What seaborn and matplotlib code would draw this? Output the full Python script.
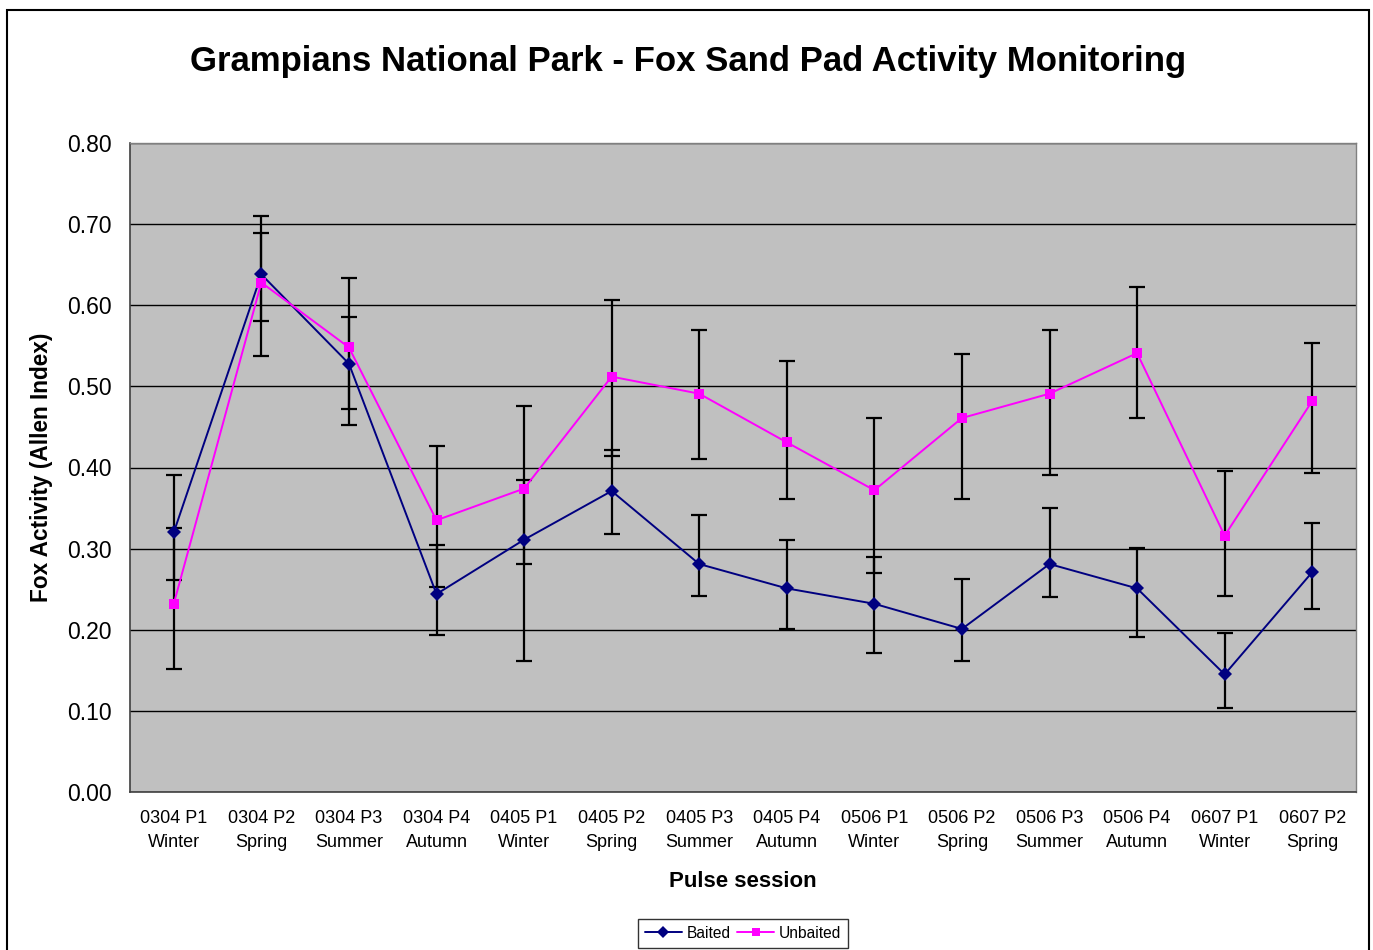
import numpy as np
import pandas as pd
import matplotlib
matplotlib.use("Agg")
import matplotlib.pyplot as plt
from matplotlib.patches import Rectangle
from matplotlib.ticker import FixedLocator
import seaborn as sns

sessions = ["0304 P1\nWinter", "0304 P2\nSpring", "0304 P3\nSummer", "0304 P4\nAutumn",
            "0405 P1\nWinter", "0405 P2\nSpring", "0405 P3\nSummer", "0405 P4\nAutumn",
            "0506 P1\nWinter", "0506 P2\nSpring", "0506 P3\nSummer", "0506 P4\nAutumn",
            "0607 P1\nWinter", "0607 P2\nSpring"]

baited = [0.320, 0.638, 0.528, 0.244, 0.311, 0.371, 0.281, 0.251, 0.232, 0.201, 0.281, 0.251, 0.145, 0.271]
baited_lo = [0.261, 0.581, 0.472, 0.193, 0.161, 0.318, 0.241, 0.201, 0.171, 0.161, 0.240, 0.191, 0.104, 0.226]
baited_hi = [0.391, 0.710, 0.585, 0.304, 0.384, 0.421, 0.341, 0.311, 0.290, 0.262, 0.350, 0.301, 0.196, 0.332]

unbaited = [0.232, 0.628, 0.548, 0.335, 0.374, 0.512, 0.491, 0.431, 0.372, 0.461, 0.491, 0.541, 0.316, 0.482]
unbaited_lo = [0.152, 0.537, 0.452, 0.253, 0.281, 0.414, 0.410, 0.361, 0.270, 0.361, 0.391, 0.461, 0.242, 0.393]
unbaited_hi = [0.325, 0.689, 0.634, 0.427, 0.476, 0.607, 0.570, 0.531, 0.461, 0.540, 0.570, 0.622, 0.396, 0.554]

yticks = [0.0, 0.1, 0.2, 0.3, 0.4, 0.5, 0.6, 0.7, 0.8]

sns.set_theme(style="white")
plt.rcParams['font.family'] = ['Liberation Sans', 'DejaVu Sans']
plt.rcParams['text.color'] = 'black'
plt.rcParams['axes.labelcolor'] = 'black'
plt.rcParams['xtick.color'] = 'black'
plt.rcParams['ytick.color'] = 'black'

pos = np.arange(len(sessions))
df = pd.DataFrame({
    "pos": np.concatenate([pos, pos]),
    "value": baited + unbaited,
    "series": ["Baited"] * len(pos) + ["Unbaited"] * len(pos),
})

fig = plt.figure(figsize=(13.73, 9.5), dpi=100)
ax = fig.add_axes([130/1373, 1 - 792/950, (1356-130)/1373, (792-143)/950])
ax.set_facecolor("#C0C0C0")

# error bars
for vals, lo, hi in [(baited, baited_lo, baited_hi), (unbaited, unbaited_lo, unbaited_hi)]:
    v = np.array(vals)
    err = [v - np.array(lo), np.array(hi) - v]
    ax.errorbar(pos, v, yerr=err, fmt='none', ecolor='black', elinewidth=1.6,
                capsize=6, capthick=1.6, zorder=2)

sns.lineplot(data=df, x="pos", y="value", hue="series", style="series",
             palette={"Baited": "#000080", "Unbaited": "#FF00FF"},
             markers={"Baited": "D", "Unbaited": "s"}, dashes=False,
             markersize=7, markeredgewidth=0, linewidth=1.4, ax=ax, zorder=3)

ax.set_xlim(-0.5, len(sessions) - 0.5)
ax.set_ylim(0, 0.8)
ax.set_yticks(yticks)
ax.set_yticklabels([f"{t:.2f}" for t in yticks], fontsize=16.5)
ax.set_xticks(pos)
ax.set_xticklabels(sessions, fontsize=13, linespacing=1.55)
ax.xaxis.set_minor_locator(FixedLocator(np.arange(-0.5, len(sessions), 1.0)))
ax.tick_params(axis='x', which='major', length=0, pad=13)
ax.tick_params(axis='x', which='minor', length=7, width=1, color='black', direction='out')
ax.tick_params(axis='y', which='major', length=7, width=1, color='black', direction='out', pad=6)
ax.yaxis.grid(True, color='black', linewidth=1.0)
ax.set_axisbelow(True)
for s in ['top', 'right']:
    ax.spines[s].set_color('#808080')
    ax.spines[s].set_linewidth(1.0)
for s in ['left', 'bottom']:
    ax.spines[s].set_color('#404040')
    ax.spines[s].set_linewidth(1.2)

ax.set_xlabel("Pulse session", fontsize=16, fontweight='bold', labelpad=14)
ax.set_ylabel("Fox Activity (Allen Index)", fontsize=16.3, fontweight='bold', labelpad=10)

fig.text(688/1373, 1 - 62/950, "Grampians National Park - Fox Sand Pad Activity Monitoring",
         ha='center', va='center', fontsize=25, fontweight='bold')

sns.move_legend(ax, "center", bbox_to_anchor=(0.5, (792-933)/(792-143)), ncol=2,
                frameon=True, fontsize=11.2, title=None, handlelength=2.4,
                handletextpad=0.3, columnspacing=0.4, borderpad=0.45, fancybox=False,
                edgecolor='black')
leg = ax.get_legend()
leg.get_frame().set_linewidth(1.0)
for h in leg.legend_handles:
    h.set_markersize(6)

fig.patches.append(Rectangle((7/1373, -0.01), (1369-7)/1373, 1 - 10/950 + 0.01,
                             transform=fig.transFigure, fill=False,
                             edgecolor='black', linewidth=1.5))

fig.savefig("out.png", dpi=100)
